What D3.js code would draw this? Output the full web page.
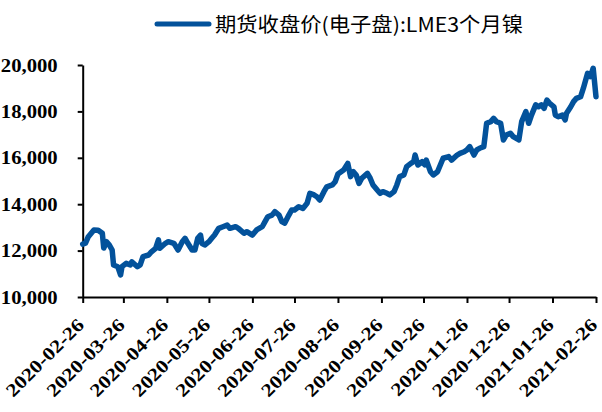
<!DOCTYPE html>
<html><head><meta charset="utf-8">
<script src="https://cdn.jsdelivr.net/npm/d3@7"></script>
<style>body{margin:0;background:#fff}svg{display:block}</style>
</head><body>
<script>
const seriesName = "期货收盘价(电子盘):LME3个月镍";
const dates = ["2020-02-26","2020-02-28","2020-03-01","2020-03-05","2020-03-08","2020-03-11","2020-03-12","2020-03-14","2020-03-16","2020-03-18","2020-03-19","2020-03-22","2020-03-24","2020-03-25","2020-03-28","2020-03-31","2020-04-01","2020-04-05","2020-04-07","2020-04-09","2020-04-13","2020-04-15","2020-04-18","2020-04-20","2020-04-21","2020-04-25","2020-04-27","2020-05-01","2020-05-04","2020-05-07","2020-05-09","2020-05-11","2020-05-14","2020-05-16","2020-05-18","2020-05-20","2020-05-21","2020-05-23","2020-05-26","2020-05-28","2020-05-30","2020-06-02","2020-06-05","2020-06-08","2020-06-10","2020-06-14","2020-06-16","2020-06-20","2020-06-22","2020-06-26","2020-06-29","2020-07-03","2020-07-05","2020-07-07","2020-07-10","2020-07-12","2020-07-15","2020-07-17","2020-07-19","2020-07-22","2020-07-24","2020-07-26","2020-07-29","2020-08-01","2020-08-04","2020-08-06","2020-08-09","2020-08-11","2020-08-13","2020-08-16","2020-08-18","2020-08-22","2020-08-24","2020-08-26","2020-08-30","2020-09-02","2020-09-04","2020-09-06","2020-09-08","2020-09-10","2020-09-12","2020-09-16","2020-09-18","2020-09-20","2020-09-23","2020-09-25","2020-09-27","2020-09-30","2020-10-02","2020-10-05","2020-10-07","2020-10-09","2020-10-12","2020-10-14","2020-10-17","2020-10-19","2020-10-20","2020-10-22","2020-10-25","2020-10-27","2020-10-28","2020-10-31","2020-11-02","2020-11-05","2020-11-07","2020-11-09","2020-11-13","2020-11-15","2020-11-19","2020-11-21","2020-11-24","2020-11-26","2020-11-28","2020-12-01","2020-12-03","2020-12-05","2020-12-08","2020-12-09","2020-12-10","2020-12-13","2020-12-15","2020-12-17","2020-12-20","2020-12-22","2020-12-24","2020-12-27","2020-12-29","2021-01-02","2021-01-04","2021-01-07","2021-01-09","2021-01-11","2021-01-14","2021-01-16","2021-01-18","2021-01-20","2021-01-22","2021-01-24","2021-01-27","2021-01-28","2021-01-30","2021-02-02","2021-02-04","2021-02-05","2021-02-08","2021-02-10","2021-02-12","2021-02-15","2021-02-17","2021-02-20","2021-02-22","2021-02-24","2021-02-26"];
const values = [12280,12320,12600,12890,12880,12745,12110,12385,12240,12025,11380,11305,10950,11305,11450,11380,11520,11305,11380,11740,11810,11950,12100,12460,12100,12315,12385,12315,12025,12385,12530,12315,12025,12025,12530,12670,12315,12240,12385,12530,12670,12960,13030,13100,12960,13030,12960,12745,12815,12670,12890,13030,13250,13460,13530,13680,13530,13250,13180,13530,13750,13750,13890,13820,14040,14470,14400,14320,14180,14540,14750,14830,14970,15300,15470,15760,15190,15400,15260,14900,15120,15330,15120,14830,14610,14470,14540,14470,14400,14540,14830,15190,15260,15620,15760,15830,16120,15690,15830,15700,15900,15400,15260,15400,15690,15980,16050,15900,16120,16190,16260,16340,16480,16120,16340,16410,16480,16980,17490,17560,17700,17560,17490,16770,16980,17060,16910,16770,17560,17990,17490,17840,18280,18200,18280,18130,18490,18350,18200,17840,17770,17840,17630,17920,18200,18420,18560,18630,19000,19640,19500,19860,18630];
const yTicks = [10000,12000,14000,16000,18000,20000];
const xTickLabels = ["2020-02-26","2020-03-26","2020-04-26","2020-05-26","2020-06-26","2020-07-26","2020-08-26","2020-09-26","2020-10-26","2020-11-26","2020-12-26","2021-01-26","2021-02-26"];

const W = 602, H = 412;
const parse = d3.utcParse("%Y-%m-%d");
const data = dates.map((d,i)=>({date: parse(d), value: values[i]}));

const svg = d3.select("body").append("svg").attr("width", W).attr("height", H);

const x = d3.scaleUtc().domain([parse("2020-02-26"), parse("2021-02-26")]).range([82.7, 596]);
const y = d3.scaleLinear().domain([10000, 20000]).range([297, 65]);

const serif = "'Liberation Serif','Times New Roman',serif";

// Y axis
const yAxis = svg.append("g").attr("transform", "translate(82.7,0)")
  .call(d3.axisLeft(y).tickValues(yTicks).tickSize(5).tickSizeOuter(0).tickFormat(d3.format(",")));
yAxis.select(".domain").attr("stroke", "#000").attr("stroke-width", 2);
yAxis.selectAll(".tick line").attr("stroke", "#000").attr("stroke-width", 2);
yAxis.selectAll(".tick text")
  .attr("x", null).attr("dy", null)
  .attr("text-anchor", "end")
  .attr("font-family", serif).attr("font-weight", "bold").attr("font-size", 18)
  .attr("fill", "#000")
  .attr("transform", "translate(-25,6) scale(1.15,1)");

// X axis
const xAxis = svg.append("g").attr("transform", "translate(0,297)")
  .call(d3.axisBottom(x).tickValues(xTickLabels.map(parse)).tickSize(6).tickSizeOuter(0).tickFormat(d3.utcFormat("%Y-%m-%d")));
xAxis.select(".domain").attr("stroke", "#000").attr("stroke-width", 2);
xAxis.selectAll(".tick line").attr("stroke", "#000").attr("stroke-width", 2);
xAxis.selectAll(".tick text")
  .attr("y", null).attr("dy", null)
  .attr("text-anchor", "end")
  .attr("font-family", serif).attr("font-weight", "bold").attr("font-size", 18.5)
  .attr("fill", "#000")
  .attr("transform", "translate(2,29) rotate(-45) scale(1.18,1)");

// Line
const line = d3.line().x(d=>x(d.date)).y(d=>y(d.value)).curve(d3.curveLinear);
svg.append("path").datum(data)
  .attr("fill", "none").attr("stroke", "#03529b").attr("stroke-width", 5.5)
  .attr("stroke-linejoin", "round").attr("stroke-linecap", "round")
  .attr("d", line);

// Legend
const lg = svg.append("g");
lg.append("line").attr("x1", 157).attr("x2", 209).attr("y1", 24).attr("y2", 24)
  .attr("stroke", "#03529b").attr("stroke-width", 5).attr("stroke-linecap", "round");
lg.append("text").attr("x", 215).attr("y", 31.5)
  .attr("font-family", "'Noto Sans CJK SC',sans-serif").attr("font-size", 20)
  .attr("fill", "#000")
  .attr("textLength", 308).attr("lengthAdjust", "spacingAndGlyphs")
  .text(seriesName);
</script>
</body></html>
